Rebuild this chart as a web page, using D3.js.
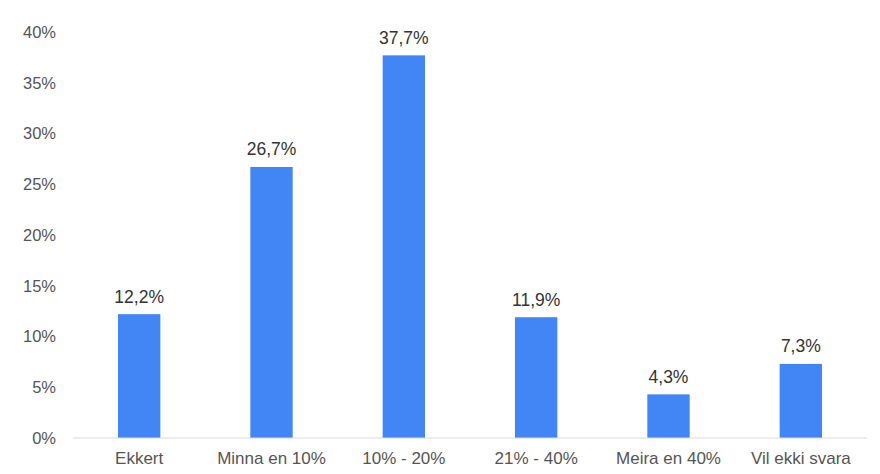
<!DOCTYPE html>
<html>
<head>
<meta charset="utf-8">
<script src="https://cdn.jsdelivr.net/npm/d3@7"></script>
<style>
  html, body { margin: 0; padding: 0; background: #fff; }
  svg { display: block; font-family: "Liberation Sans", Arial, sans-serif; }
</style>
</head>
<body>
<svg id="chart" width="880" height="474"></svg>
<script>
// Share of respondents per answer category
const categories = ["Ekkert", "Minna en 10%", "10% - 20%", "21% - 40%", "Meira en 40%", "Vil ekki svara"];
const values = [12.2, 26.7, 37.7, 11.9, 4.3, 7.3];
const valueLabels = ["12,2%", "26,7%", "37,7%", "11,9%", "4,3%", "7,3%"];
const yTicks = [0, 5, 10, 15, 20, 25, 30, 35, 40];

const svg = d3.select("#chart");
const margin = { top: 32, right: 13, bottom: 36, left: 73 };
const width = 880 - margin.left - margin.right;
const height = 474 - margin.top - margin.bottom;

const g = svg.append("g").attr("transform", `translate(${margin.left},${margin.top})`);

const x = d3.scaleBand().domain(categories).range([0, width]).paddingInner(0.68).paddingOuter(0.34);
const y = d3.scaleLinear().domain([0, 40]).range([height, 0]);

// y axis labels (no line, no tick marks)
const yAxis = d3.axisLeft(y).tickValues(yTicks).tickFormat(d => d + "%").tickSize(0).tickPadding(17);
g.append("g").call(yAxis)
  .call(s => s.select(".domain").remove())
  .call(s => s.selectAll("text").attr("fill", "#555").attr("font-size", 16.5).attr("font-family", "Liberation Sans, Arial, sans-serif"));

// bars
g.selectAll("rect.bar").data(values).join("rect")
  .attr("class", "bar")
  .attr("x", (d, i) => x(categories[i]))
  .attr("width", x.bandwidth())
  .attr("y", d => y(d))
  .attr("height", d => y(0) - y(d))
  .attr("fill", "#4285f4");

// baseline
g.append("line").attr("x1", 0).attr("x2", width).attr("y1", y(0)).attr("y2", y(0))
  .attr("stroke", "#d9d9d9").attr("stroke-width", 1.2);

// x axis labels
const xAxis = d3.axisBottom(x).tickSize(0).tickPadding(14);
g.append("g").attr("transform", `translate(0,${height})`).call(xAxis)
  .call(s => s.select(".domain").remove())
  .call(s => s.selectAll("text").attr("fill", "#555").attr("font-size", 17).attr("font-family", "Liberation Sans, Arial, sans-serif"));

// value labels
g.selectAll("text.val").data(values).join("text")
  .attr("class", "val")
  .attr("x", (d, i) => x(categories[i]) + x.bandwidth() / 2)
  .attr("y", d => y(d) - 11.5)
  .attr("text-anchor", "middle")
  .attr("fill", "#333")
  .attr("font-size", 17.5)
  .text((d, i) => valueLabels[i]);
</script>
</body>
</html>
